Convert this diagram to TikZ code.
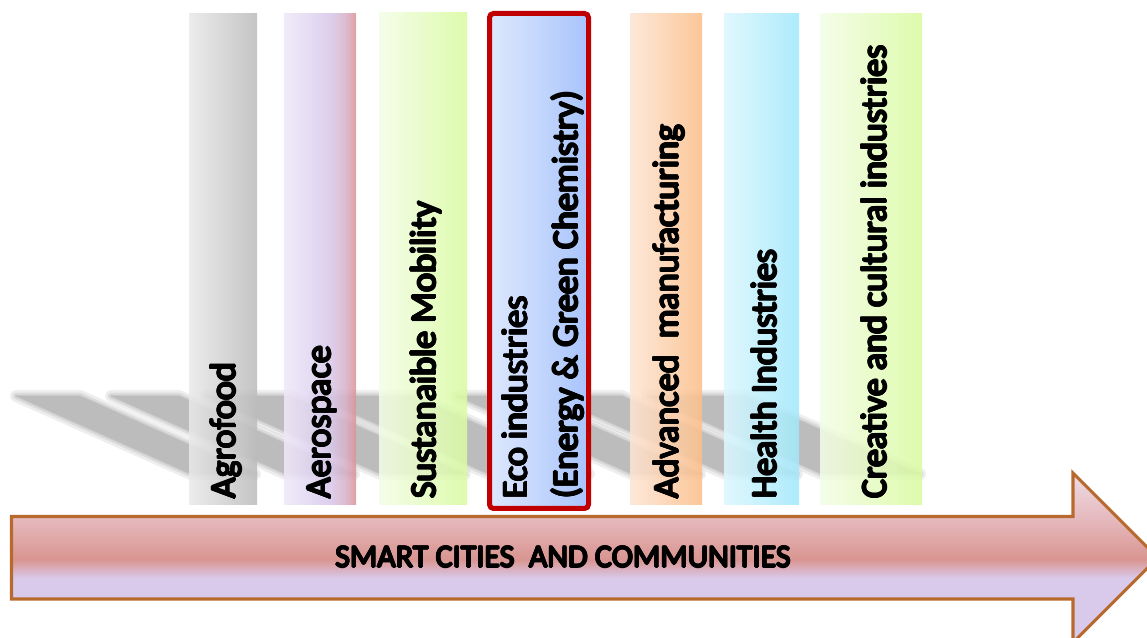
\documentclass[tikz,border=0pt]{standalone}
\usepackage{fontspec}
\setmainfont{Carlito}
\newcommand\fbcp[3]{\rlap{\raisebox{#2pt}{\kern#1pt#3}}}
\newcommand\fakebf[1]{\leavevmode\fbcp{0}{0}{#1}\fbcp{0.35}{0}{#1}\fbcp{0.7}{0}{#1}\fbcp{1.05}{0}{#1}\fbcp{1.4}{0}{#1}\fbcp{0.7}{0.6}{#1}\fbcp{0.7}{-0.6}{#1}\fbcp{0.25}{0.4}{#1}\fbcp{1.15}{0.4}{#1}\fbcp{0.25}{-0.4}{#1}\fbcp{1.15}{-0.4}{#1}\phantom{#1}\kern1.4pt}
\definecolor{shcol}{HTML}{A8A8A8}
\definecolor{g1}{HTML}{E9E9E9}\definecolor{g2}{HTML}{BCBCBC}
\definecolor{a1}{HTML}{EEE8F8}\definecolor{a2}{HTML}{D8C9EB}\definecolor{a3}{HTML}{D9949A}
\definecolor{s1}{HTML}{F3FDE7}\definecolor{s2}{HTML}{D9FBA1}
\definecolor{e1}{HTML}{DEE8FD}\definecolor{e2}{HTML}{A8C4FC}
\definecolor{o1}{HTML}{FDE5D4}\definecolor{o2}{HTML}{FCBF8B}
\definecolor{h1}{HTML}{DDF7FE}\definecolor{h2}{HTML}{A2E8FB}
\definecolor{ecored}{HTML}{C00000}
\definecolor{arrline}{HTML}{B86A2E}
\definecolor{lav}{HTML}{D9C9EB}
\definecolor{pmid}{HTML}{D99590}
\definecolor{ptop}{HTML}{E5B8BC}
\definecolor{htop}{HTML}{EEDCE5}
\pgfdeclarehorizontalshading{aeroshade}{100bp}{color(0bp)=(a1); color(25bp)=(a1); color(57bp)=(a2); color(67bp)=(a2!60!a3); color(75bp)=(a3); color(100bp)=(a3)}
\pgfdeclareverticalshading{arrowshade}{100bp}{color(0bp)=(lav); color(25bp)=(lav); color(44bp)=(lav); color(49.5bp)=(pmid); color(61bp)=(ptop); color(75bp)=(htop); color(100bp)=(htop)}
\tikzset{
  colbox/.style={fill opacity=0.88},
  lbl/.style={rotate=90, anchor=west, font=\fontsize{27}{38}\selectfont, inner sep=0pt, align=left},
  arrowbody/.style={draw=arrline, line width=2.3pt, shading=arrowshade, line join=miter},
  arrowtext/.style={font=\fontsize{24}{28}\selectfont, inner sep=0pt}
}
\begin{document}
\begin{tikzpicture}[x=0.75pt,y=0.75pt]
\useasboundingbox (0,0) rectangle (1147,638);
\begin{scope}
\clip (0,0) rectangle (1147,638);
% soft shadows
\foreach \a/\b in {189/257, 284/356, 379/467, 487/591, 630/702, 724/799, 820/922} {
  \foreach \w/\op in {9/0.2, 5/0.25, 2/0.3, 0.1/0.45} {
    \begin{scope}[transparency group, opacity=\op]
      \filldraw[shcol, line width=\w pt, line join=round] (\a+2,164) -- (\b-2,164) -- (\b-177,242) -- (\a-173,242) -- cycle;
    \end{scope}
  }
}
% columns
\shade[colbox, left color=g1, right color=g2] (189,133) rectangle (257,624);
\shade[colbox, shading=aeroshade] (284,133) rectangle (356,624);
\shade[colbox, left color=s1, right color=s2] (379,133) rectangle (467,625);
\shade[left color=e1, right color=e2, draw=ecored, line width=3.75pt, rounded corners=3pt] (489.5,129.5) rectangle (588.5,624.5);
\shade[colbox, left color=o1, right color=o2] (630,133) rectangle (702,624);
\shade[colbox, left color=h1, right color=h2] (724,133) rectangle (799,624);
\shade[colbox, left color=s1, right color=s2] (820,133) rectangle (922,624);
% labels
\node[lbl] (agro) at (226,138) {\fakebf{Agrofood}};
\node[lbl] (aero) at (322,138) {\fakebf{Aerospace}};
\node[lbl] (mob) at (426,138) {\fakebf{Sustanaible Mobility}};
\node[lbl] (eco) at (543,138) {\fakebf{Eco industries}\\\fakebf{(Energy \& Green Chemistry)}};
\node[lbl] (adv) at (669,138) {\fakebf{Advanced~~manufacturing}};
\node[lbl] (health) at (764,138) {\fakebf{Health Industries}};
\node[lbl] (creat) at (874,138) {\fakebf{Creative and cultural industries}};
% arrow
\path[arrowbody] (11.5,121.5) -- (1073,121.5) -- (1073,165) -- (1157.75,80.25) -- (1073,-4.5) -- (1073,39) -- (11.5,39) -- cycle;
\node[arrowtext] (smart) at (563,81) {\fakebf{SMART CITIES~~AND COMMUNITIES}};
\end{scope}
\end{tikzpicture}
\end{document}
